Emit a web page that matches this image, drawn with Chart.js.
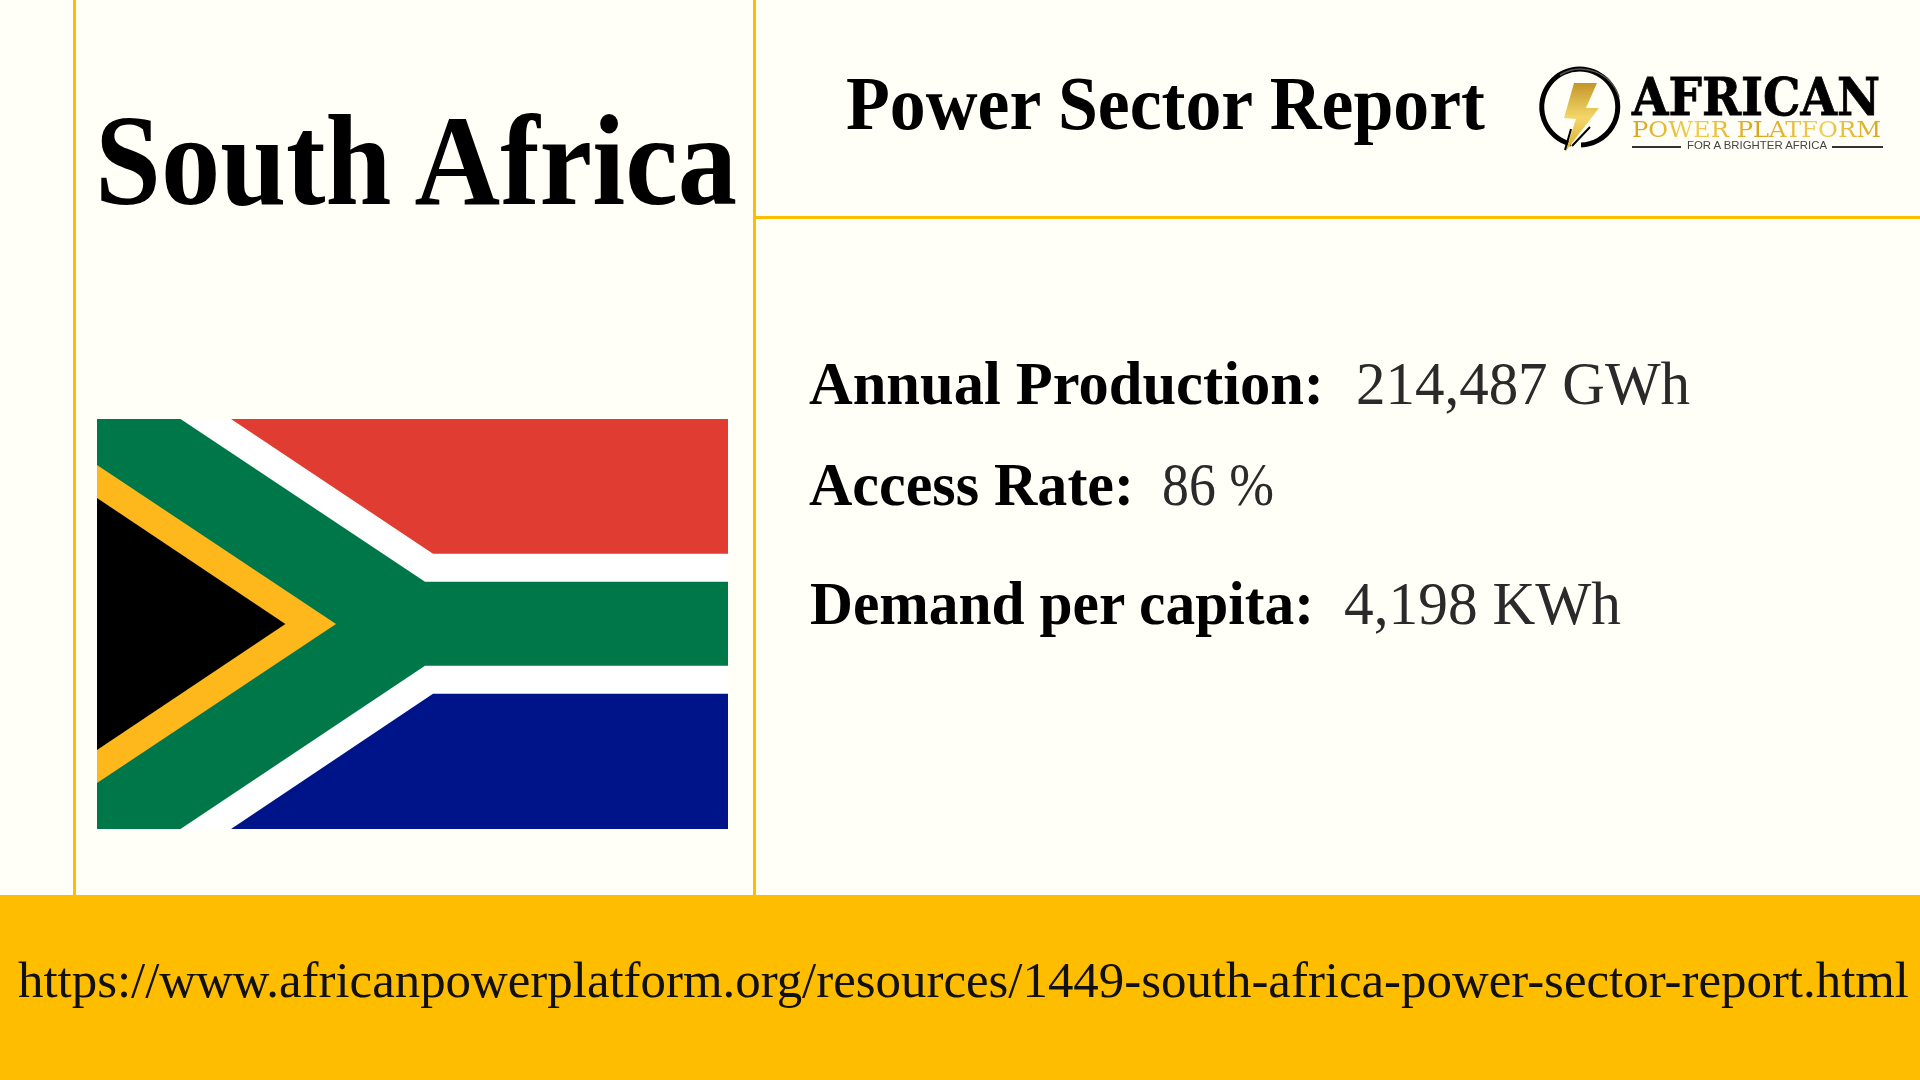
<!DOCTYPE html>
<html>
<head>
<meta charset="utf-8">
<title>South Africa Power Sector Report</title>
<script src="https://cdn.jsdelivr.net/npm/chart.js"></script>
<style>
  html, body { margin: 0; padding: 0; width: 1920px; height: 1080px; overflow: hidden; background: #fffff8; }
  .rule { position: absolute; background: #ffbd00; }
  #flag { position: absolute; left: 97px; top: 419px; }
  #logo { position: absolute; left: 0; top: 0; }
  .txt { position: absolute; white-space: nowrap; line-height: 1; transform-origin: left center; color: #000; }
  .tight { line-height: 0.8; }
  .heavy { -webkit-text-stroke: 0.8px #000; }
  .gold { background: linear-gradient(90deg, #d8a418, #f2cf55, #d8a418, #f2cf55, #d8a418); -webkit-background-clip: text; background-clip: text; color: transparent; }
</style>
</head>
<body>
<div class="rule" style="left:73px;top:0;width:3px;height:895px"></div>
<div class="rule" style="left:753px;top:0;width:3px;height:895px"></div>
<div class="rule" style="left:756px;top:216px;width:1164px;height:3px"></div>
<div class="rule" style="left:0;top:895px;width:1920px;height:185px"></div>

<svg id="logo" width="1920" height="220">
  <defs>
    <linearGradient id="boltFill" x1="0" y1="0" x2="0" y2="1">
      <stop offset="0" stop-color="#c4962a"/>
      <stop offset="0.5" stop-color="#f3d768"/>
      <stop offset="1" stop-color="#d9ae2c"/>
    </linearGradient>
  </defs>
  <path d="M1581 145 A38 38 0 1 0 1571 144" fill="none" stroke="#000" stroke-width="5"/>
  <path d="M1560 75 A40 40 0 0 1 1619 97" fill="none" stroke="#555" stroke-width="1.5"/>
  <polygon points="1574,83 1597,83 1586,108 1599,108 1565,152 1576,119 1564,118" fill="url(#boltFill)"/>
  <path d="M1571 129 L1565 150 M1590 127 L1572 146" fill="none" stroke="#000" stroke-width="2"/>
  <rect x="1632" y="146" width="49" height="2" fill="#333"/>
  <rect x="1832" y="146" width="51" height="2" fill="#333"/>
</svg>

<canvas id="flag" width="631" height="410"></canvas>

<script>
// flag shapes, x 0-631 and y 0-410
const whiteX = [0, 631, 631, 0];
const whiteY = [0, 0, 410, 410];
const greenX = [0, 83.5, 328, 631, 631, 328, 83.5, 0];
const greenY = [0, 0, 162.7, 162.7, 246.7, 246.7, 410, 410];
const yellowX = [0, 239, 0];
const yellowY = [46, 205, 364];
const blackX = [0, 188.4, 0];
const blackY = [79, 205, 331];
const redX = [134, 631, 631, 336];
const redY = [0, 0, 134.7, 134.7];
const blueX = [336, 631, 631, 134];
const blueY = [274.7, 274.7, 410, 410];

const headline = "South Africa";
const reportTitle = "Power Sector Report";
const statLabels = ["Annual Production:", "Access Rate:", "Demand per capita:"];
const statValues = ["214,487 GWh", "86 %", "4,198 KWh"];
const reportUrl = "https://www.africanpowerplatform.org/resources/1449-south-africa-power-sector-report.html";

function shape(xs, ys, color) {
  return {
    data: xs.map((x, i) => ({ x: x, y: ys[i] })),
    showLine: true,
    fill: 'shape',
    backgroundColor: color,
    borderWidth: 0,
    pointRadius: 0,
    tension: 0,
  };
}

// first dataset ends up on top
new Chart(document.getElementById('flag'), {
  type: 'scatter',
  data: {
    datasets: [
      shape(blackX, blackY, '#000000'),
      shape(yellowX, yellowY, '#ffb81c'),
      shape(redX, redY, '#e03c31'),
      shape(blueX, blueY, '#001489'),
      shape(greenX, greenY, '#007749'),
      shape(whiteX, whiteY, '#ffffff'),
    ],
  },
  options: {
    responsive: false,
    animation: false,
    devicePixelRatio: 1,
    layout: { padding: 0 },
    plugins: { legend: { display: false }, tooltip: { enabled: false } },
    scales: {
      x: { type: 'linear', display: false, min: 0, max: 631 },
      y: { type: 'linear', display: false, min: 0, max: 410, reverse: true },
    },
  },
});

// puts text on its baseline and stretches it to run from left to right
function place(text, left, right, baseline, size, font, weight, color, cls) {
  const el = document.createElement('div');
  el.className = 'txt' + (cls ? ' ' + cls : '');
  el.textContent = text;
  el.style.left = left + 'px';
  el.style.top = '0px';
  el.style.fontFamily = font;
  el.style.fontSize = size + 'px';
  el.style.fontWeight = weight;
  if (color) el.style.color = color;
  const mark = document.createElement('span');
  mark.style.display = 'inline-block';
  mark.style.height = '0';
  el.appendChild(mark);
  document.body.appendChild(el);
  el.style.top = (baseline - mark.getBoundingClientRect().bottom) + 'px';
  el.style.transform = 'scaleX(' + (right - left) / el.getBoundingClientRect().width + ')';
}

const serif = '"Liberation Serif", serif';
place(headline, 95, 737, 204, 130, serif, 700);
place(reportTitle, 846, 1485, 129, 76, serif, 700);
place(statLabels[0], 809, 1324, 404, 62, serif, 700);
place(statValues[0], 1356, 1690, 404, 62, serif, 400, '#2a2a2a');
place(statLabels[1], 809, 1134, 505, 62, serif, 700);
place(statValues[1], 1162, 1274, 505, 62, serif, 400, '#2a2a2a');
place(statLabels[2], 810, 1314, 624, 62, serif, 700);
place(statValues[2], 1344, 1621, 624, 62, serif, 400, '#2a2a2a');
place(reportUrl, 18, 1909, 997, 50, serif, 400, '#111');

place("AFRICAN", 1632, 1880, 115, 52, '"DejaVu Serif", serif', 700, '', 'tight heavy');
place("POWER PLATFORM", 1632, 1881, 137, 23, '"DejaVu Serif", serif', 400, '', 'tight gold');
place("FOR A BRIGHTER AFRICA", 1687, 1827, 149, 10.5, '"Liberation Sans", sans-serif', 400, '#444');
</script>
</body>
</html>
